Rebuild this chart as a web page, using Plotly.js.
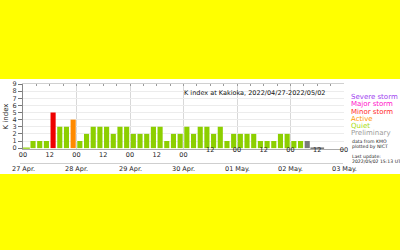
<!DOCTYPE html>
<html>
<head>
<meta charset="utf-8">
<script src="https://cdn.plot.ly/plotly-3.0.1.min.js"></script>
<style>html,body{margin:0;padding:0;background:#ffff00;}#chart{width:400px;height:250px;}</style>
</head>
<body>
<div id="chart"></div>
<script>
// 3-hour K index at Kakioka, from 2022/04/27 00 UT
var kDefinitive = [
  0,1,1,1,5,3,3,4,   // 27 Apr
  1,2,3,3,3,2,3,3,   // 28 Apr
  2,2,2,3,3,1,2,2,   // 29 Apr
  3,2,3,3,2,3,1,2,   // 30 Apr
  2,2,2,1,1,1,2,2,   // 01 May
  1,1                // 02 May
];
var kPreliminary = [1,0,0]; // 02 May, following the definitive values
var tickHoursA = [0,12,24,36,48,60,72];
var tickLabelsA = ["00","12","00","12","00","12","00"];
var tickHoursB = [84,96,108,120,132,144];
var tickLabelsB = ["12","00","12","00","12","00"];
var dateHours = [0,24,48,72,96,120,144];
var dateLabels = ["27 Apr.","28 Apr.","29 Apr.","30 Apr.","01 May.","02 May.","03 May."];
var legendNames = ["Severe storm","Major storm","Minor storm","Active","Quiet","Preliminary"];
var legendColors = ["#a040f0","#ff10c8","#ff2a2a","#ff9a00","#a8dc10","#9a9a9a"];
var chartTitle = "K index at Kakioka, 2022/04/27-2022/05/02";

var QUIET="#8ccf00", ACTIVE="#ff8a00", MINOR="#ee0000", MAJOR="#ff10c8", SEVERE="#a040f0", PRELIM="#7a7a7a";
function colorFor(k){ if(k>=7) return SEVERE; if(k>=6) return MAJOR; if(k>=5) return MINOR; if(k>=4) return ACTIVE; return QUIET; }

var xDef = kDefinitive.map(function(_,i){return i*3+1.5;});
var xPre = kPreliminary.map(function(_,i){return (kDefinitive.length+i)*3+1.5;});

var zx=[], zy=[], zc=[];
kDefinitive.forEach(function(k,i){ if(k===0){ zx.push(xDef[i]); zy.push(k); zc.push(QUIET);} });
kPreliminary.forEach(function(k,i){ if(k===0){ zx.push(xPre[i]); zy.push(k); zc.push('#555555');} });

var traces = [
  {type:'bar', x:xDef, y:kDefinitive, width:2.3, marker:{color:kDefinitive.map(colorFor)}, hoverinfo:'skip', showlegend:false},
  {type:'bar', x:xPre, y:kPreliminary, width:2.3, marker:{color:PRELIM}, hoverinfo:'skip', showlegend:false},
  {type:'scatter', mode:'markers', x:zx, y:zy,
   marker:{symbol:'line-ew-open', size:5, color:zc, line:{width:1.2, color:zc}},
   hoverinfo:'skip', cliponaxis:false, showlegend:false},
  {type:'scatter', x:[0,144], y:[0,0], xaxis:'x2', mode:'none', hoverinfo:'skip', showlegend:false},
  {type:'scatter', x:[0,144], y:[0,0], xaxis:'x3', mode:'none', hoverinfo:'skip', showlegend:false},
  {type:'scatter', x:[0,144], y:[0,0], xaxis:'x4', mode:'none', hoverinfo:'skip', showlegend:false}
];

var L=23, T=84, W=321, H=65;
function py(pix){ return (T+H-pix)/H; }
function px(pix){ return (pix-L)/W; }

var FONT = {family:'DejaVu Sans', size:6.5, color:'#222222'};
var ann = [];
dateHours.forEach(function(h,i){
  ann.push({x:h, xref:'x', y:py(169), yref:'paper', text:dateLabels[i], showarrow:false,
    xanchor:'center', yanchor:'middle', font:FONT});
});
var legY = [97,104,112,119,126,133];
legendNames.forEach(function(n,i){
  ann.push({x:px(349), xref:'paper', y:py(legY[i]), yref:'paper', text:n, showarrow:false,
    xanchor:'left', yanchor:'middle', font:{family:'DejaVu Sans', size:7, color:legendColors[i]}});
});
var notes = [["data from KMO",141],["plotted by NICT",146],["Last update:",156],["2022/05/02 15:13 UT",161]];
notes.forEach(function(n){
  ann.push({x:px(350), xref:'paper', y:py(n[1]), yref:'paper', text:n[0], showarrow:false,
    xanchor:'left', yanchor:'middle', font:{family:'DejaVu Sans', size:4.6, color:'#222222'}});
});

var labelAxis = function(vals, txt, shift){
  return {range:[0,144], overlaying:'x', side:'bottom', anchor:'y', tickmode:'array', tickvals:vals, ticktext:txt,
    ticks:'', showgrid:false, showline:false, zeroline:false, tickfont:FONT, ticklabelstandoff:shift};
};

var layout = {
  width:400, height:250,
  paper_bgcolor:'#ffff00', plot_bgcolor:'rgba(0,0,0,0)',
  margin:{l:L, r:400-L-W, t:T, b:250-T-H, pad:0},
  showlegend:false, barmode:'overlay',
  font:{family:'DejaVu Sans', size:6.5, color:'#222'},
  title:{text:chartTitle, xref:'paper', x:px(184), xanchor:'left', yref:'paper', y:py(93), yanchor:'middle',
    font:{family:'DejaVu Sans', size:6.5, color:'#111'}},
  xaxis:{range:[0,144], tickmode:'linear', tick0:0, dtick:24, showgrid:true, gridcolor:'#d8d8d8', gridwidth:1,
    showticklabels:false, ticks:'', showline:true, linecolor:'#aaa', zeroline:false},
  xaxis2:{range:[0,144], overlaying:'x', side:'top', anchor:'y', tickmode:'linear', tick0:0, dtick:6,
    ticks:'inside', ticklen:2, tickcolor:'#999', showticklabels:false, showgrid:false, showline:true, linecolor:'#d0d0d0', zeroline:false},
  xaxis3:labelAxis(tickHoursA, tickLabelsA, 0),
  xaxis4:labelAxis(tickHoursB, tickLabelsB, -5),
  yaxis:{range:[-0.12,9], tickmode:'linear', tick0:0, dtick:1, showgrid:true, gridcolor:'#ececec',
    ticks:'outside', ticklen:4, tickcolor:'#777', showline:true, linecolor:'#888', zeroline:false,
    tickfont:{family:'DejaVu Sans', size:6.5, color:'#333'},
    title:{text:'K index', standoff:3, font:{family:'DejaVu Sans', size:7, color:'#222'}}},
  shapes:[
    {type:'rect', xref:'paper', yref:'paper', x0:-1, x1:2, y0:py(174), y1:py(79), fillcolor:'#ffffff', line:{width:0}, layer:'below'},
    {type:'line', xref:'paper', yref:'paper', x0:px(20), x1:px(343), y0:py(163.5), y1:py(163.5), line:{color:'#cfcfcf', width:1}}
  ],
  annotations:ann
};
Plotly.newPlot('chart', traces, layout, {staticPlot:true, displayModeBar:false});
</script>
</body>
</html>
